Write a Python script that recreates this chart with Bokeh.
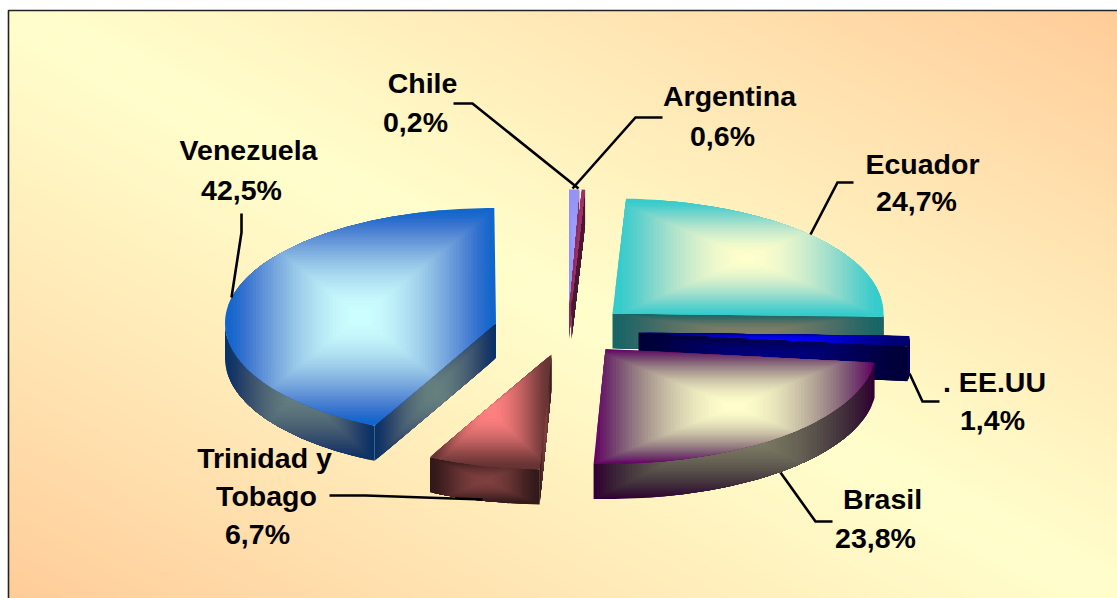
import math
from bokeh.embed import file_html
from bokeh.models import Range1d
from bokeh.plotting import figure
from bokeh.resources import INLINE
from bokeh.core.properties import value

# Shares of each country, in clockwise order from twelve o'clock
paises = ["Argentina", "Chile", "Ecuador", "EE.UU", "Brasil", "Trinidad y Tobago", "Venezuela"]
porcentajes = [0.6, 0.2, 24.7, 1.4, 23.8, 6.7, 42.5]

# Colours: rim of the top face, middle of the top face, optional wall override
color_borde = ["#9494F8", "#993366", "#33CCCC", "#000070", "#660066", "#663333", "#1166CC"]
color_centro = ["#A0A0FF", "#993366", "#FFFFCC", "#0000FF", "#FFFFCC", "#FF8080", "#CCFFFF"]
color_lado = ["#8C2F62", None, None, None, None, None, None]

# Where each exploded slice has its point
vertice_x = [568.5, 571.0, 612.0, 638.0, 605.0, 551.0, 495.5]
vertice_y = [304.0, 304.0, 313.0, 332.0, 348.5, 354.0, 322.5]

W, H = 1117, 598
RX, RY, ALTO = 271.0, 115.0, 35.0
MARCO = (8.0, 10.0, 1117.0, 598.0)
CREMA, DURAZNO = "#FFFFCC", "#FFCC99"
NIVELES = 44
AJUSTE_TEXTO = -11.5

# Text lines: string, centre x, baseline y
etiquetas = [
    ("Chile", 422, 94), ("0,2%", 415, 133),
    ("Argentina", 729, 107), ("0,6%", 722, 147),
    ("Venezuela", 248, 161), ("42,5%", 241, 201),
    ("Ecuador", 922, 175), ("24,7%", 916, 212),
    (". EE.UU", 994, 393), ("1,4%", 992, 431),
    ("Brasil", 882, 510), ("23,8%", 875, 549),
    ("Trinidad y", 264, 469), ("Tobago", 266, 507), ("6,7%", 257, 545),
]

# Leader lines from the labels to their slices
guias = [
    [(453, 103), (472, 103), (578, 188)],
    [(662, 117), (635, 117), (572, 188)],
    [(231, 297), (241, 232), (241, 213)],
    [(853, 182), (837, 182), (810, 234)],
    [(909, 373), (922, 401), (939, 401)],
    [(780, 472), (815, 521), (832, 521)],
    [(329, 495), (365, 495), (482, 499)],
]


def rgb(h):
    return tuple(int(h[i:i + 2], 16) for i in (1, 3, 5))


def mezcla(a, b, t):
    """Blend two sRGB colours in linear light."""
    canal = []
    for x, y in zip(a, b):
        v = (x / 255) ** 2.2 + ((y / 255) ** 2.2 - (x / 255) ** 2.2) * t
        canal.append(round(255 * v ** (1 / 2.2)))
    return "#%02x%02x%02x" % tuple(canal)


def recorta(poly, a, b, c):
    """Keep the part of a polygon where a*x + b*y <= c."""
    out = []
    for i, p in enumerate(poly):
        q = poly[(i + 1) % len(poly)]
        dp = a * p[0] + b * p[1] - c
        dq = a * q[0] + b * q[1] - c
        if dp <= 0:
            out.append(p)
        if dp * dq < 0:
            t = dp / (dp - dq)
            out.append((p[0] + (q[0] - p[0]) * t, p[1] + (q[1] - p[1]) * t))
    return out


xs, ys, fills = [], [], []


def agrega(poly, color):
    if len(poly) >= 3:
        xs.append([p[0] for p in poly])
        ys.append([p[1] for p in poly])
        fills.append(color)


def degradado(poly, borde, centro):
    """Rectangular path gradient over the polygon's bounding box."""
    x0, x1 = min(p[0] for p in poly), max(p[0] for p in poly)
    y0, y1 = min(p[1] for p in poly), max(p[1] for p in poly)
    cx, cy = (x0 + x1) / 2, (y0 + y1) / 2
    for k in range(NIVELES + 1):
        s = 1 - k / NIVELES
        u = 1 - s
        hx, hy = (x1 - x0) / 2 * s, (y1 - y0) / 2 * s
        if k == 0:
            parte = poly
        else:
            parte = recorta(poly, 1, 0, cx + hx)
            parte = recorta(parte, -1, 0, -(cx - hx))
            parte = recorta(parte, 0, 1, cy + hy) if parte else parte
            parte = recorta(parte, 0, -1, -(cy - hy)) if parte else parte
        agrega(parte, mezcla(borde, centro, u * u * (3 - 2 * u)))


def fondo():
    """Cream along the main diagonal, peach towards the other two corners."""
    x0, y0, x1, y1 = MARCO
    rect = [(x0, y0), (x1, y0), (x1, y1), (x0, y1)]
    agrega(rect, DURAZNO)
    w, h = x1 - x0, y1 - y0
    a, b = rgb(DURAZNO), rgb(CREMA)
    pasos = 60
    for k in range(1, pasos + 1):
        t = 1 - k / pasos
        parte = recorta(rect, 1 / w, -1 / h, x0 / w - y0 / h + t)
        parte = recorta(parte, -1 / w, 1 / h, -(x0 / w - y0 / h) + t) if parte else parte
        agrega(parte, mezcla(a, b, 1 - t))


def punto(cx, cy, ang, dz=0.0):
    r = math.radians(ang)
    return (cx + RX * math.sin(r), cy - RY * math.cos(r) + dz)


def arco(cx, cy, a0, a1, dz=0.0):
    n = max(2, int(abs(a1 - a0) / 1.5) + 2)
    return [punto(cx, cy, a0 + (a1 - a0) * i / (n - 1), dz) for i in range(n)]


fondo()

acumulado = 0.0
for pct, vx, vy, borde, centro, lado in zip(porcentajes, vertice_x, vertice_y,
                                            color_borde, color_centro, color_lado):
    a0 = acumulado * 3.6
    acumulado += pct
    a1 = acumulado * 3.6
    b, c = rgb(borde), rgb(centro)
    if lado:
        b2 = c2 = rgb(lado)
    else:
        b2, c2 = tuple(v / 2 for v in b), tuple(v / 2 for v in c)

    # Side walls that face the viewer
    if math.sin(math.radians(a0)) < -1e-6:
        e = punto(vx, vy, a0)
        degradado([(vx, vy), e, (e[0], e[1] + ALTO), (vx, vy + ALTO)], b2, c2)
    if math.sin(math.radians(a1)) > 1e-6:
        e = punto(vx, vy, a1)
        degradado([(vx, vy), e, (e[0], e[1] + ALTO), (vx, vy + ALTO)], b2, c2)
    f0, f1 = max(a0, 90.0), min(a1, 270.0)
    if f1 > f0:
        degradado(arco(vx, vy, f0, f1) + arco(vx, vy, f1, f0, ALTO), b2, c2)

    # Top face
    degradado([(vx, vy)] + arco(vx, vy, a0, a1), b, c)

p = figure(width=W, height=H, output_backend="svg", toolbar_location=None,
           x_range=Range1d(0, W), y_range=Range1d(H, 0), min_border=0,
           background_fill_color="white", border_fill_color="white", outline_line_color=None)
p.axis.visible = False
p.grid.visible = False

p.patches(xs, ys, fill_color=fills, line_color=None)

# Frame of the chart area
p.line([MARCO[0], MARCO[0], MARCO[2]], [MARCO[3], MARCO[1], MARCO[1]], line_color="#222222", line_width=1.6)

p.multi_line([[q[0] for q in g] for g in guias], [[q[1] for q in g] for g in guias],
             line_color="black", line_width=2.6, line_join="miter")

p.text([e[1] for e in etiquetas], [e[2] + AJUSTE_TEXTO for e in etiquetas], text=[e[0] for e in etiquetas],
       text_font=value("Liberation Sans"), text_font_style="bold", text_font_size="28.5px",
       text_align="center", text_baseline="alphabetic", text_color="black")

open("out.html", "w").write(file_html(p, INLINE))
